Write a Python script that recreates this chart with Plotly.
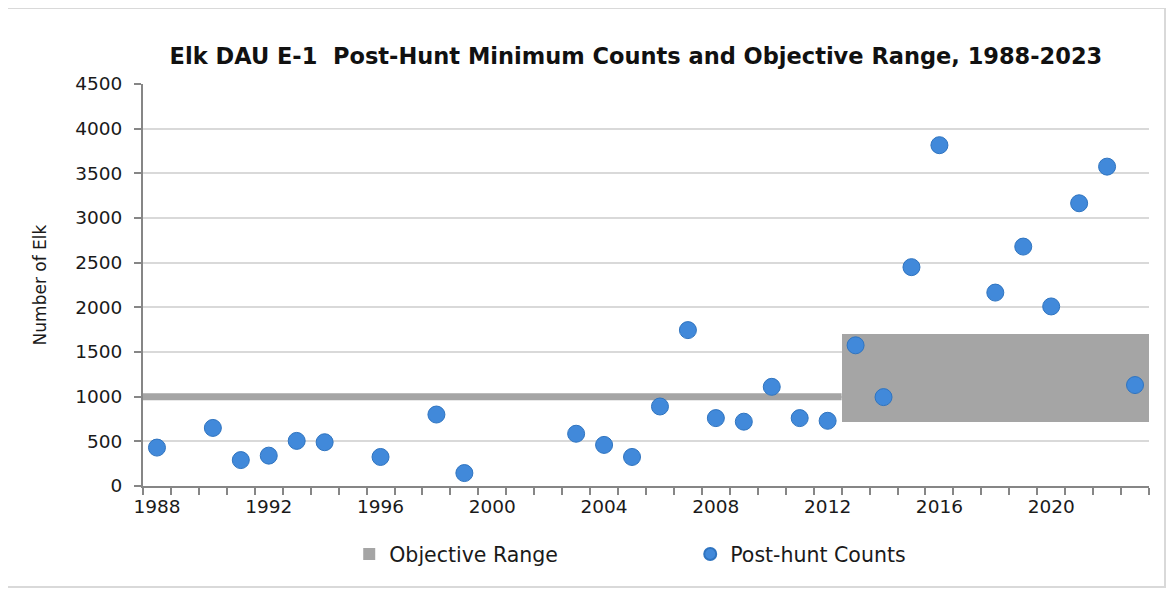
import plotly.graph_objects as go

# ---- data ----
count_years = [1988, 1990, 1991, 1992, 1993, 1994, 1996, 1998, 1999, 2003, 2004, 2005,
               2006, 2007, 2008, 2009, 2010, 2011, 2012, 2013, 2014, 2015, 2016, 2018,
               2019, 2020, 2021, 2022, 2023]
post_hunt_counts = [430, 650, 290, 340, 505, 490, 325, 800, 145, 585, 460, 325,
                    890, 1745, 760, 720, 1110, 760, 730, 1575, 995, 2450, 3815, 2165,
                    2680, 2010, 3165, 3575, 1130]

objective_years = list(range(1988, 2013))
objective_value = 1000

range_years = list(range(2013, 2024))
range_low = [720] * len(range_years)
range_high = [1700] * len(range_years)

all_years = list(range(1988, 2024))
tick_years = [1988, 1992, 1996, 2000, 2004, 2008, 2012, 2016, 2020]
y_ticks = [0, 500, 1000, 1500, 2000, 2500, 3000, 3500, 4000, 4500]

GRAY = "#a5a5a5"
BLUE = "#4189da"
AXIS = "#868686"
FONT = "DejaVu Sans"
TXT = "#1a1a1a"

# page body has an 8px margin, so margins are offset to compensate
ML, MT, MR, MB = 135, 76, 33, 112
PW = 1174 - ML - MR
PH = 590 - MT - MB

fig = go.Figure()

# objective range box (2013-2023)
fig.add_trace(go.Bar(
    x=range_years,
    y=[h - l for h, l in zip(range_high, range_low)],
    base=range_low,
    width=1,
    marker=dict(color=GRAY, line=dict(width=0)),
    name="Objective Range",
    showlegend=True,
    hoverinfo="skip",
))

# objective line (1988-2012)
fig.add_trace(go.Scatter(
    x=[objective_years[0] - 0.5, objective_years[-1] + 0.5],
    y=[objective_value, objective_value],
    mode="lines",
    line=dict(color=GRAY, width=7),
    showlegend=False,
    hoverinfo="skip",
))

fig.add_trace(go.Scatter(
    x=count_years,
    y=post_hunt_counts,
    mode="markers",
    marker=dict(size=17, color=BLUE, line=dict(color="#2f74c0", width=1)),
    name="Post-hunt Counts",
))

fig.update_layout(
    width=1174, height=590,
    margin=dict(l=ML, r=MR, t=MT, b=MB),
    paper_bgcolor="white", plot_bgcolor="white",
    font=dict(family=FONT, size=17, color=TXT),
    bargap=0,
    title=dict(
        text="<b>Elk DAU E-1  Post-Hunt Minimum Counts and Objective Range, 1988-2023</b>",
        font=dict(family=FONT, size=22.5, color="#111111"),
        x=0.49, xref="paper", xanchor="center",
        y=0.918, yref="container", yanchor="middle",
    ),
    legend=dict(
        orientation="h",
        x=0.205, xanchor="left",
        y=-0.12, yanchor="top",
        entrywidth=296, entrywidthmode="pixels",
        itemsizing="constant",
        font=dict(family=FONT, size=20.5, color=TXT),
        bgcolor="rgba(0,0,0,0)",
    ),
    showlegend=True,
)

fig.update_xaxes(
    range=[all_years[0] - 0.5, all_years[-1] + 0.5],
    tickmode="array", tickvals=tick_years, ticktext=[str(t) for t in tick_years],
    ticks="outside", ticklen=3, tickcolor="rgba(0,0,0,0)",
    showgrid=False, zeroline=False,
    showline=True, linecolor=AXIS, linewidth=2,
    tickfont=dict(size=18.5, color=TXT),
    minor=dict(tickmode="array", tickvals=[y - 0.5 for y in all_years] + [all_years[-1] + 0.5],
               ticks="outside", ticklen=7, tickcolor=AXIS, tickwidth=2, showgrid=False),
)

fig.update_yaxes(
    range=[0, 4500],
    tickmode="array", tickvals=y_ticks,
    ticks="outside", ticklen=7, tickcolor=AXIS, tickwidth=2,
    ticklabelstandoff=8,
    showgrid=True, gridcolor="#d9d9d9", gridwidth=1.5,
    zeroline=False,
    showline=True, linecolor=AXIS, linewidth=2,
    tickfont=dict(size=18.5, color=TXT),
    title=dict(text="Number of Elk", font=dict(size=17, color=TXT), standoff=24),
)

# chart border (pixel positions in the page -> paper coordinates)
ox, oy = ML + 8, MT + 8
fig.add_shape(type="rect", xref="paper", yref="paper",
              x0=(7 - ox) / PW, x1=(1165 - ox) / PW,
              y0=(oy + PH - 587) / PH, y1=(oy + PH - 8) / PH,
              line=dict(color="#d9d9d9", width=2), fillcolor="rgba(0,0,0,0)", layer="below")

fig.write_html("out.html")
